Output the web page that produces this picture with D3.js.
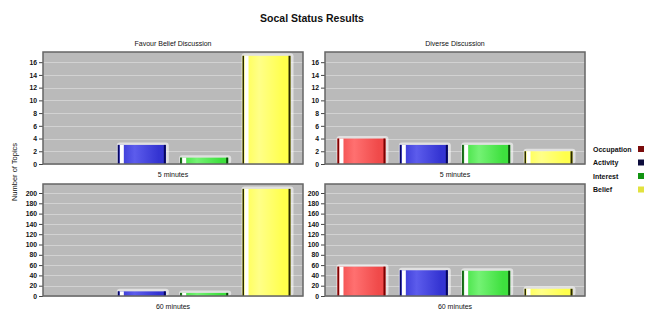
<!DOCTYPE html>
<html>
<head>
<meta charset="utf-8">
<script src="https://cdn.jsdelivr.net/npm/d3@7"></script>
<style>
  body { margin: 0; background: #fff; }
  text { font-family: "Liberation Sans", Arial, sans-serif; fill: #111; }
</style>
</head>
<body>
<script>
var width = 661, height = 314;

// data
var categories = ["Occupation", "Activity", "Interest", "Belief"];
var panelTitles = ["Favour Belief Discussion", "Diverse Discussion"];
var timeLabels = ["5 minutes", "60 minutes"];
var favour5 = [0, 3, 1, 17];
var diverse5 = [4, 3, 3, 2];
var favour60 = [0, 9, 6, 208];
var diverse60 = [57, 50, 49, 14];
var ticks5 = [0, 2, 4, 6, 8, 10, 12, 14, 16];
var ticks60 = [0, 20, 40, 60, 80, 100, 120, 140, 160, 180, 200];

// bar colours: main, light, dark edge ; legend swatches
var barMain = ["#f04a4a", "#3434d2", "#3ee03e", "#ffff4c"];
var barLight = ["#ff7070", "#5c5cec", "#74f274", "#ffff88"];
var barDark = ["#7a0000", "#06065e", "#0a4a0a", "#2a2a00"];
var swatch = ["#7a0c0c", "#0c0c3c", "#129412", "#e2e23e"];

var svg = d3.select("body").append("svg")
  .attr("width", width)
  .attr("height", height);

var defs = svg.append("defs");
categories.forEach(function(c, i) {
  var g = defs.append("linearGradient").attr("id", "grad" + i)
    .attr("x1", "0%").attr("x2", "100%").attr("y1", "0%").attr("y2", "0%");
  g.append("stop").attr("offset", "0%").attr("stop-color", barMain[i]);
  g.append("stop").attr("offset", "35%").attr("stop-color", barLight[i]);
  g.append("stop").attr("offset", "85%").attr("stop-color", barMain[i]);
  g.append("stop").attr("offset", "100%").attr("stop-color", barMain[i]);
});

svg.append("text")
  .attr("x", 312).attr("y", 22)
  .attr("text-anchor", "middle")
  .style("font-size", "10.5px").style("font-weight", "bold")
  .text("Socal Status Results");

svg.append("text")
  .attr("transform", "translate(17,172) rotate(-90)")
  .attr("text-anchor", "middle")
  .style("font-size", "7.5px")
  .text("Number of Topics");

var panels = [
  { x: 43,  top: 52,  bottom: 164, vals: favour5,   ticks: ticks5,  max: 17.6,  title: panelTitles[0], time: timeLabels[0] },
  { x: 325, top: 52,  bottom: 164, vals: diverse5,  ticks: ticks5,  max: 17.6,  title: panelTitles[1], time: timeLabels[0] },
  { x: 43,  top: 184, bottom: 296, vals: favour60,  ticks: ticks60, max: 217.5, title: null,           time: timeLabels[1] },
  { x: 325, top: 184, bottom: 296, vals: diverse60, ticks: ticks60, max: 217.5, title: null,           time: timeLabels[1] }
];
var pw = 260;

panels.forEach(function(p) {
  var g = svg.append("g").attr("transform", "translate(" + p.x + ",0)");
  var x = d3.scaleBand().domain(categories).range([0, pw])
    .paddingInner(0.23).paddingOuter(0.2);
  var y = d3.scaleLinear().domain([0, p.max]).range([p.bottom, p.top]);

  g.append("rect")
    .attr("x", 0).attr("y", p.top)
    .attr("width", pw).attr("height", p.bottom - p.top)
    .attr("fill", "#bababa");

  g.selectAll(".grid").data(p.ticks).enter().append("line")
    .attr("x1", 0).attr("x2", pw)
    .attr("y1", function(d) { return Math.round(y(d)) + 0.5; })
    .attr("y2", function(d) { return Math.round(y(d)) + 0.5; })
    .attr("stroke", "#d2d2d2").attr("stroke-width", 1);

  var axis = d3.axisLeft(y).tickValues(p.ticks).tickSize(4).tickPadding(2);
  var ax = g.append("g").call(axis);
  ax.select(".domain").remove();
  ax.selectAll("line").attr("stroke", "#444");
  ax.selectAll("text")
    .style("font-size", "6.8px").style("font-weight", "bold")
    .style("font-family", "'Liberation Sans', Arial, sans-serif");

  var bars = g.selectAll(".bar")
    .data(p.vals.map(function(v, i) { return { cat: categories[i], v: v, i: i }; })
      .filter(function(d) { return d.v > 0; }))
    .enter().append("g");

  // soft white halo behind the bar
  bars.append("rect")
    .attr("x", function(d) { return x(d.cat) - 1; })
    .attr("y", function(d) { return y(d.v) - 2.5; })
    .attr("width", x.bandwidth() + 4)
    .attr("height", function(d) { return p.bottom - y(d.v) + 2.5; })
    .attr("rx", 3)
    .attr("fill", "#ffffff").attr("opacity", 0.55);

  bars.append("rect")
    .attr("x", function(d) { return x(d.cat); })
    .attr("y", function(d) { return y(d.v); })
    .attr("width", x.bandwidth())
    .attr("height", function(d) { return p.bottom - y(d.v); })
    .attr("fill", function(d) { return "url(#grad" + d.i + ")"; });

  bars.append("rect")
    .attr("x", function(d) { return x(d.cat) + 2; })
    .attr("y", function(d) { return y(d.v); })
    .attr("width", 4)
    .attr("height", function(d) { return p.bottom - y(d.v); })
    .attr("fill", "#ffffff");

  bars.append("rect")
    .attr("x", function(d) { return x(d.cat); })
    .attr("y", function(d) { return y(d.v); })
    .attr("width", 1.5)
    .attr("height", function(d) { return p.bottom - y(d.v); })
    .attr("fill", function(d) { return barDark[d.i]; });

  bars.append("rect")
    .attr("x", function(d) { return x(d.cat) + x.bandwidth() - 2; })
    .attr("y", function(d) { return y(d.v); })
    .attr("width", 2)
    .attr("height", function(d) { return p.bottom - y(d.v); })
    .attr("fill", function(d) { return barDark[d.i]; });

  g.append("rect")
    .attr("x", 0).attr("y", p.top)
    .attr("width", pw).attr("height", p.bottom - p.top)
    .attr("fill", "none")
    .attr("stroke", "#666").attr("stroke-width", 1.5);

  if (p.title) {
    g.append("text")
      .attr("x", pw / 2).attr("y", p.top - 6)
      .attr("text-anchor", "middle")
      .style("font-size", "7px")
      .text(p.title);
  }
  g.append("text")
    .attr("x", pw / 2).attr("y", p.bottom + 13)
    .attr("text-anchor", "middle")
    .style("font-size", "7px")
    .text(p.time);
});

var legend = svg.append("g").attr("transform", "translate(593,149)");
categories.forEach(function(c, i) {
  legend.append("text")
    .attr("x", 0).attr("y", i * 13.5 + 2.5)
    .style("font-size", "7px").style("font-weight", "bold")
    .text(c);
  legend.append("rect")
    .attr("x", 45).attr("y", i * 13.5 - 3)
    .attr("width", 6).attr("height", 6)
    .attr("fill", swatch[i]);
});
</script>
</body>
</html>
